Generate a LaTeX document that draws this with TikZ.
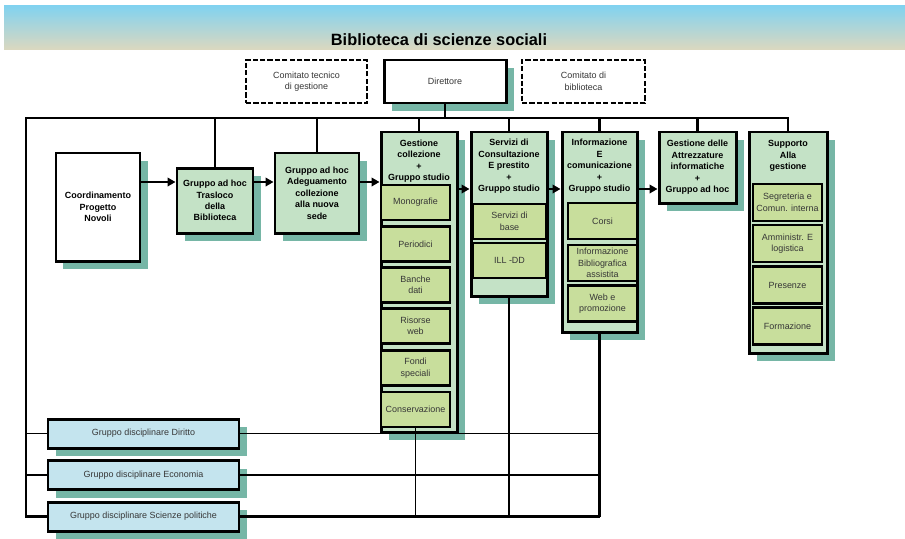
\documentclass[tikz,border=0pt]{standalone}
\usepackage{fontspec}
\setmainfont{Liberation Sans}
\usetikzlibrary{shadows}
\usetikzlibrary{positioning}
\usetikzlibrary{arrows.meta}
\usetikzlibrary{calc}
\definecolor{shadowgreen}{RGB}{118,182,166}
\definecolor{boxgreen}{RGB}{196,226,198}
\definecolor{subgreen}{RGB}{200,222,156}
\definecolor{groupblue}{RGB}{196,228,238}
\definecolor{barblue}{RGB}{128,210,240}
\definecolor{barbeige}{RGB}{218,216,192}
\definecolor{textgrey}{RGB}{55,55,55}
\tikzstyle{smalltext}=[font=\fontsize{5.1}{6.5}\selectfont, text=textgrey, align=center]
\tikzstyle{boldtext}=[font=\fontsize{5.1}{6.5}\selectfont\bfseries, text=black, align=center]
\tikzstyle{orgbox}=[draw, line width=1.7pt, fill=boxgreen, inner sep=0pt, drop shadow={shadow xshift=0.15cm, shadow yshift=-0.16cm, fill=shadowgreen, opacity=1}]
\tikzstyle{subbox}=[draw, line width=1.4pt, fill=subgreen, inner sep=0pt, smalltext]
\tikzstyle{groupbox}=[draw, line width=1.7pt, fill=groupblue, inner sep=0pt, smalltext, drop shadow={shadow xshift=0.16cm, shadow yshift=-0.16cm, fill=shadowgreen, opacity=1}]
\tikzstyle{comitbox}=[draw, line width=1.4pt, dash pattern=on 3pt off 1.2pt, fill=white, inner sep=0pt, smalltext]
\tikzstyle{link} = [draw, line width=1.3pt]
\tikzstyle{thinlink} = [draw, line width=0.9pt]
\tikzstyle{flow} = [draw, line width=1.3pt, -{Triangle[length=4.5pt,width=4.8pt]}]
\tikzset{wh/.style 2 args={minimum width=#1*0.02cm, minimum height=#2*0.02cm}}
\begin{document}
\begin{tikzpicture}[x=0.02cm, y=-0.02cm]
    \useasboundingbox (0,0) rectangle (905,538);
    % Title bar
    \shade[top color=barblue, bottom color=barbeige] (4,5) rectangle (905,49);
    \node[font=\fontsize{9.3}{11}\selectfont\bfseries] (title) at (439,40) {Biblioteca di scienze sociali};

    % Director and committees
    \node[comitbox, wh={121}{43}] (ctg) at (306.5,81.5) {Comitato tecnico\\di gestione};
    \node[orgbox, fill=white, smalltext, wh={122}{43}] (dir) at (445,81.5) {Direttore};
    \node[comitbox, wh={123}{43}] (cdb) at (583.5,81.5) {Comitato di\\biblioteca};

    % Project groups
    \node[orgbox, fill=white, boldtext, wh={84}{108}] (coord) at (98,207) {Coordinamento\\Progetto\\Novoli};
    \node[orgbox, boldtext, wh={76}{65}] (trasl) at (215,200.5) {Gruppo ad hoc\\Trasloco\\della\\Biblioteca};
    \node[orgbox, boldtext, wh={84}{80}] (adeg) at (317,193) {Gruppo ad hoc\\Adeguamento\\collezione\\alla nuova\\sede};

    % Sections
    \foreach \pos/\name/\w/\h in {(419,282)/gc/76/300, (509,214)/sv/76/164, (599.5,232)/ic/75/200, (788,242.5)/sp/78/221}
        \node[orgbox, wh={\w}{\h}] (\name) at \pos {};
    \node[orgbox, boldtext, wh={77}{71}] (ga) at (697.5,167.5) {Gestione delle\\Attrezzature\\informatiche\\+\\Gruppo ad hoc};

    \node[boldtext] (gch) at (419,161) {Gestione\\collezione\\+\\Gruppo studio};
    \node[boldtext] (svh) at (509,166.5) {Servizi di\\Consultazione\\E prestito\\+\\Gruppo studio};
    \node[boldtext] (ich) at (599.5,166.5) {Informazione\\E\\comunicazione\\+\\Gruppo studio};
    \node[boldtext] (sph) at (788,156) {Supporto\\Alla\\gestione};

    % Offices inside the sections
    \foreach \y/\name/\label in {202.5/gc1/Monografie, 244/gc2/Periodici, 285/gc3/{Banche\\dati}, 326/gc4/{Risorse\\web}, 368/gc5/{Fondi\\speciali}, 409.5/gc6/Conservazione}
        \node[subbox, wh={69}{35}] (\name) at (415.5,\y) {\label};
    \foreach \y/\name/\label in {221.5/sv1/{Servizi di\\base}, 260.5/sv2/{ILL -DD}}
        \node[subbox, wh={73}{35}] (\name) at (509.5,\y) {\label};
    \foreach \y/\name/\label in {221/ic1/Corsi, 263/ic2/{Informazione\\Bibliografica\\assistita}, 303.5/ic3/{Web e\\promozione}}
        \node[subbox, wh={69}{36}] (\name) at (602.5,\y) {\label};
    \foreach \y/\name/\label in {202.5/sp1/{Segreteria e\\Comun. interna}, 243.5/sp2/{Amministr. E\\logistica}, 285/sp3/Presenze, 326/sp4/Formazione}
        \node[subbox, wh={69}{37}] (\name) at (787.5,\y) {\label};

    % Subject groups
    \foreach \y/\name/\label in {433.5/gd/Diritto, 475/ge/Economia, 516.5/gs/Scienze politiche}
        \node[groupbox, wh={191}{29}] (\name) at (143.5,\y) {Gruppo disciplinare \label};

    % Connect the chart
    \coordinate (busl) at (26,118);
    \coordinate (rowa) at (0,182);
    \coordinate (rowb) at (0,189);
    \path[link] (sp.north) |- (busl) |- (gs.west);
    \path[link] (dir.south) -- (dir.south |- busl);
    \foreach \name in {trasl, adeg, gc, sv, ic, ga}
        \path[link] (\name.north) -- (\name.north |- busl);

    \foreach \source/\dest in {coord/trasl, trasl/adeg, adeg/gc}
        \path[flow] (\source.east |- rowa) -- (\dest.west |- rowa);
    \foreach \source/\dest in {gc/sv, sv/ic, ic/ga}
        \path[flow] (\source.east |- rowb) -- (\dest.west |- rowb);

    \foreach \name in {gd, ge}
        \path[thinlink] (busl |- \name.west) -- (\name.west);
    \foreach \name in {gd, ge}
        \path[thinlink] (\name.east) -- (\name.east -| ic.south);
    \path[link] (gs.east) -- (gs.east -| ic.south);
    \path[thinlink] (gc6.south) -- (gc6.south |- gs.east);
    \foreach \name in {sv, ic}
        \path[link] (\name.south) -- (\name.south |- gs.east);
\end{tikzpicture}
\end{document}
